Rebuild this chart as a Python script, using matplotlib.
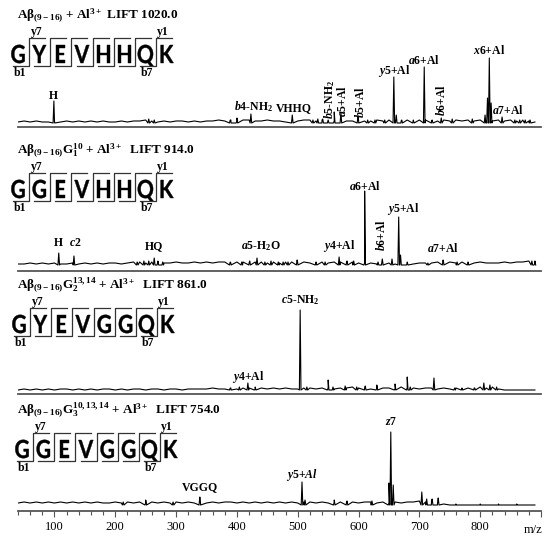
import numpy as np
import matplotlib
matplotlib.use("Agg")
import matplotlib.pyplot as plt
from matplotlib.ticker import MultipleLocator
from matplotlib.textpath import TextPath
from matplotlib.patches import PathPatch
from matplotlib.font_manager import FontProperties
from matplotlib.transforms import Affine2D

plt.rcParams['font.family'] = 'Liberation Serif'
plt.rcParams['mathtext.fontset'] = 'custom'
plt.rcParams['mathtext.rm'] = 'Liberation Serif:bold'
plt.rcParams['mathtext.it'] = 'Liberation Serif:italic:bold'
plt.rcParams['mathtext.bf'] = 'Liberation Serif:bold'
plt.rcParams['mathtext.default'] = 'rm'

# ---- data (intensities in arbitrary units) ----
noise_mz = np.arange(40, 900, 10)

noise1 = [1, 2, 1, 2, 1, 1, 2, 1, 2, 1,
          2, 1, 2, 1, 2, 1, 1, 2, 1, 2,
          2, 3, 2, 1, 2, 1, 2, 2, 1, 2,
          1, 2, 2, 3, 2, 3, 2, 3, 3, 2,
          2, 3, 2, 2, 1, 2, 2, 3, 3, 2,
          3, 3, 2, 3, 2, 2, 3, 2, 2, 3,
          2, 3, 2, 2, 3, 2, 3, 3, 2, 2,
          3, 2, 3, 2, 3, 2, 3, 2, 2, 3,
          2, 3, 2, 3, 2, 1]
noise2 = [1, 1, 2, 1, 2, 1, 2, 1, 1, 2,
          1, 2, 1, 2, 1, 2, 2, 1, 2, 3,
          3, 2, 3, 3, 2, 2, 3, 2, 2, 3,
          2, 3, 2, 3, 3, 2, 3, 3, 2, 3,
          3, 2, 3, 2, 3, 3, 2, 3, 2, 2,
          3, 2, 3, 3, 2, 3, 2, 2, 2, 1,
          2, 2, 1, 2, 2, 1, 2, 2, 2, 3,
          2, 3, 2, 3, 2, 2, 3, 2, 2, 2,
          3, 2, 3, 3, 4, 2]
noise3 = [0, 1, 0, 1, 0, 1, 0, 1, 1, 0,
          1, 0, 1, 0, 1, 1, 0, 1, 0, 1,
          1, 0, 1, 1, 0, 1, 1, 0, 1, 1,
          1, 1, 2, 1, 1, 2, 1, 2, 2, 1,
          2, 1, 2, 1, 2, 1, 1, 2, 2, 1,
          2, 2, 1, 2, 2, 3, 2, 2, 1, 2,
          2, 2, 1, 3, 2, 2, 1, 2, 2, 1,
          2, 1, 2, 1, 2, 2, 3, 2, 3, 1,
          0, 0, 0, 0, 0, 0]
noise4 = [2, 3, 2, 3, 2, 3, 2, 3, 2, 3,
          2, 3, 2, 3, 2, 2, 3, 2, 3, 2,
          3, 2, 3, 2, 3, 2, 3, 2, 3, 2,
          3, 2, 3, 2, 3, 3, 2, 3, 2, 3,
          2, 3, 2, 3, 2, 3, 2, 3, 3, 2,
          3, 2, 3, 3, 2, 3, 2, 3, 3, 2,
          3, 2, 3, 2, 3, 3, 4, 3, 4, 3,
          1, 0, 0, 0, 0, 0, 0, 0, 0, 0,
          0, 0, 0, 0, 0, 0]

peaks1_mz = [99, 255, 264, 389, 400, 423, 491, 525, 533, 541, 550, 560, 571, 599,
             615, 627, 643, 658, 662, 671, 690, 708, 721, 736, 754, 787, 808, 812,
             815, 818, 836, 857, 865, 874, 882]
peaks1_h = [22, 4, 3, 3, 5, 9, 8, 3, 4, 4, 3, 11, 10, 6,
            3, 3, 3, 46, 8, 3, 3, 56, 3, 5, 4, 4, 8, 25,
            65, 20, 6, 3, 3, 3, 3]

peaks2_mz = [107, 132, 236, 247, 255, 264, 270, 278, 389, 408, 421, 433, 446, 456,
             468, 476, 484, 499, 530, 545, 568, 581, 592, 610, 632, 639, 655, 666,
             669, 680, 714, 739, 762, 780, 885, 890]
peaks2_h = [12, 9, 3, 4, 4, 7, 4, 3, 3, 3, 4, 7, 3, 4,
            3, 3, 3, 5, 3, 3, 8, 4, 4, 74, 3, 6, 6, 48,
            10, 3, 2, 5, 3, 3, 4, 4]

peaks3_mz = [389, 404, 418, 430, 504, 515, 550, 558, 578, 597, 611, 630, 660, 680,
             685, 724, 758, 770, 791, 806, 816, 827]
peaks3_h = [2, 3, 7, 3, 80, 3, 10, 3, 4, 3, 4, 5, 6, 13,
            3, 12, 2, 2, 2, 7, 5, 3]

peaks4_mz = [213, 250, 295, 339, 507, 512, 560, 581, 622, 650, 653, 657, 704, 712,
             721, 731, 760, 800, 830, 860]
peaks4_h = [3, 5, 3, 8, 23, 5, 5, 4, 4, 22, 73, 20, 13, 6,
            6, 7, 1, 1, 1, 1]

titles = [r"A$\beta_{(9-16)}$ + Al$^{3+}$ LIFT 1020.0",
          r"A$\beta_{(9-16)}$G$_1^{10}$ + Al$^{3+}$  LIFT 914.0",
          r"A$\beta_{(9-16)}$G$_2^{13,14}$ + Al$^{3+}$  LIFT 861.0",
          r"A$\beta_{(9-16)}$G$_3^{10,13,14}$ + Al$^{3+}$  LIFT 754.0"]
sequences = ["GYEVHHQK", "GGEVHHQK", "GYEVGGQK", "GGEVGGQK"]

labels1 = [r"H", r"$\mathit{b4}$-NH$_2$", r"VHHQ", r"$\mathit{b5}$-NH$_2$", r"$\mathit{a5}$+Al",
           r"$\mathit{b5}$+Al", r"$\mathit{y5}$+Al", r"$\mathit{a6}$+Al", r"$\mathit{b6}$+Al",
           r"$\mathit{x6}$+Al", r"$\mathit{a7}$+Al"]
labels1_mz = [99, 428, 493, 552, 574, 603, 658, 708, 736, 815, 846]
labels1_y = [27, 16, 15, 24, 22, 21, 52, 62, 23, 73, 13]

labels2 = [r"H", r"$\mathit{c2}$", r"HQ", r"$\mathit{a5}$-H$_2$O", r"$\mathit{y4}$+Al",
           r"$\mathit{a6}$+Al", r"$\mathit{b6}$+Al", r"$\mathit{y5}$+Al", r"$\mathit{a7}$+Al"]
labels2_mz = [107, 134, 264, 440, 568, 610, 637, 673, 739]
labels2_y = [22, 22, 19, 19, 19, 79, 30, 56, 17]

labels3 = [r"$\mathit{c5}$-NH$_2$", r"$\mathit{y4}$+Al"]
labels3_mz = [504, 418]
labels3_y = [90, 13]

labels4 = [r"VGGQ", r"$\mathit{y5{+}Al}$", r"$\mathit{z7}$"]
labels4_mz = [339, 507, 653]
labels4_y = [18, 30, 83]

# ---- layout in pixels ----
W, H = 550, 540
X0, X1 = 18, 541
fig = plt.figure(figsize=(W / 100, H / 100), dpi=100)

spectra = [(noise1, peaks1_mz, peaks1_h, labels1, labels1_mz, labels1_y),
           (noise2, peaks2_mz, peaks2_h, labels2, labels2_mz, labels2_y),
           (noise3, peaks3_mz, peaks3_h, labels3, labels3_mz, labels3_y),
           (noise4, peaks4_mz, peaks4_h, labels4, labels4_mz, labels4_y)]
axis_px = [127, 271, 394, 511]
gap_px = [4, 6, 4, 6]
title_px = [15, 150, 285, 410]
seq_x0 = [18, 18, 19, 22]
rotated = {(0, 3), (0, 4), (0, 5), (0, 8), (1, 6)}

ax_h = 110


def spectrum_xy(noise, pmz, ph):
    pts = list(zip(noise_mz, noise))
    for m, h in zip(pmz, ph):
        pts += [(m - 1.3, 0), (m, h), (m + 1.3, 0)]
    pts.sort()
    x, y = zip(*pts)
    return x, y


for i, (noise, pmz, ph, labs, lmz, ly) in enumerate(spectra):
    ax = fig.add_axes([X0 / W, 1 - axis_px[i] / H, (X1 - X0) / W, ax_h / H])
    ax.set_facecolor('none')
    x, y = spectrum_xy(noise, pmz, ph)
    ax.plot(x, y, color='black', lw=0.8)
    ax.set_xlim(40, 900)
    ax.set_ylim(-gap_px[i], ax_h - gap_px[i])
    for s in ['top', 'left', 'right']:
        ax.spines[s].set_visible(False)
    ax.spines['bottom'].set_color('#555555')
    ax.spines['bottom'].set_linewidth(1.3)
    ax.set_yticks([])
    for j, (t, m, yy) in enumerate(zip(labs, lmz, ly)):
        rot = 90 if (i, j) in rotated else 0
        ax.text(m, yy, t, fontsize=8.5, fontweight='bold', ha='center', va='center',
                rotation=rot, clip_on=False)
    if i < 3:
        ax.set_xticks([])
    else:
        ax.set_xticks(range(100, 901, 100))
        ax.set_xticklabels([str(v) for v in range(100, 801, 100)] + [''])
        ax.xaxis.set_minor_locator(MultipleLocator(20))
        ax.tick_params(axis='x', which='major', length=4, width=0.8, color='#555555',
                       labelsize=9, pad=3)
        ax.tick_params(axis='x', which='minor', length=3, width=0.8, color='#555555')

# overlay for titles and sequences
ov = fig.add_axes([0, 0, 1, 1])
ov.set_xlim(0, W)
ov.set_ylim(H, 0)
ov.axis('off')
ov.set_facecolor('none')

seq_fp = FontProperties(family='Lato', weight='bold')
cap_h = TextPath((0, 0), 'H', size=1, prop=seq_fp).get_extents().height
step = 21.3
squeeze = 0.84


def draw_seq(seq, xc0, T):
    let_top, let_bot = T + 30, T + 48
    bar_top, bar_bot = T + 23, T + 51
    sc = (let_bot - let_top) / cap_h
    for k, ch in enumerate(seq):
        xc = xc0 + k * step
        tp = TextPath((0, 0), ch, size=1, prop=seq_fp)
        e = tp.get_extents()
        tr = Affine2D().translate(-(e.x0 + e.x1) / 2, 0).scale(sc * squeeze, -sc) \
            .translate(xc, let_bot) + ov.transData
        ov.add_patch(PathPatch(tp, transform=tr, fc='black', ec='black', lw=0.3))
    for k in range(len(seq) - 1):
        xs = xc0 + (k + 0.5) * step
        ov.plot([xs + 16, xs, xs, xs - 16], [bar_top, bar_top, bar_bot, bar_bot],
                color='#333333', lw=0.9)
    s0 = xc0 + 0.5 * step
    s7 = xc0 + (len(seq) - 1.5) * step
    kw = dict(fontsize=8.5, fontweight='bold', ha='center', va='center')
    ov.text(s0 + 8, T + 17, 'y7', **kw)
    ov.text(s7 + 6, T + 17, 'y1', **kw)
    ov.text(s0 - 9, T + 58, 'b1', **kw)
    ov.text(s7 - 9, T + 58, 'b7', **kw)


for i in range(4):
    ov.text(17, title_px[i], titles[i], fontsize=9.5, fontweight='bold', ha='left', va='center')
    draw_seq(sequences[i], seq_x0[i], title_px[i])

ov.text(533, 530, 'm/z', fontsize=9, ha='center', va='center')

fig.savefig('out.png', dpi=100)
